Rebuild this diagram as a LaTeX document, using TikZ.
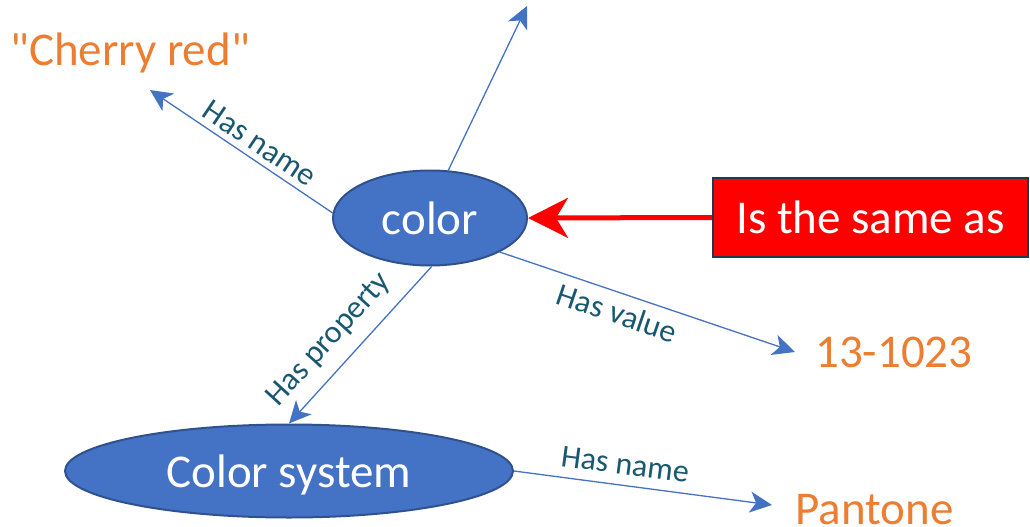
\documentclass[tikz,border=0pt]{standalone}
\usepackage{fontspec}
\setmainfont{Carlito}[Ligatures=TeXOff]
\usetikzlibrary{arrows.meta,shapes.geometric}
\definecolor{nodeblue}{HTML}{4472C4}
\definecolor{nodeedge}{HTML}{2F528F}
\definecolor{valorange}{HTML}{ED7D31}
\definecolor{labelteal}{RGB}{24,88,112}
\definecolor{boxedge}{RGB}{32,56,80}
\definecolor{linkred}{HTML}{FF0000}

\begin{document}
\begin{tikzpicture}[x=1pt,y=-1pt,
  concept/.style={ellipse, fill=nodeblue, draw=nodeedge, line width=2pt,
    inner sep=0pt, text=white, font=\fontsize{47}{56}\selectfont, text depth=0pt},
  valtext/.style={text=valorange, font=\fontsize{47}{56}\selectfont, inner sep=0pt},
  samebox/.style={rectangle, fill=linkred, draw=boxedge, line width=2.5pt,
    minimum width=315pt, minimum height=79pt, inner sep=0pt, text=white,
    font=\fontsize{47}{56}\selectfont},
  rel/.style={draw=nodeblue, line width=1.3pt,
    -{Stealth[length=22pt,width=21pt,inset=6pt]}},
  redlink/.style={draw=linkred, line width=5pt,
    -{Stealth[length=40pt,width=40pt,inset=12pt]}},
  rellabel/.style={text=labelteal, font=\fontsize{32}{38}\selectfont,
    sloped, inner sep=2pt},
]
\useasboundingbox (0,0) rectangle (1030,527);

% concepts
\node[concept, minimum width=194pt, minimum height=95pt] (color) at (430,218) {color};
\node[concept, minimum width=448pt, minimum height=93pt] (sys) at (289,471) {Color system};
\node[samebox] (same) at (870.5,217.5) {Is the same as};

% literal values
\node[valtext, anchor=base west] (cherry) at (10,66) {"Cherry red"};
\node[valtext, anchor=base west] (num) at (815,367) {13-1023};
\node[valtext, anchor=base west] (pantone) at (795,524) {Pantone};

% free arrow ends
\coordinate (nametip) at (150,90);
\coordinate (uptip) at (527,6);
\coordinate (valtip) at (795,352);
\coordinate (pantip) at (772,505);

% relations
\draw[rel] (color.177) -- node[rellabel, above=4pt, pos=.45] {Has name} (nametip);
\draw[rel] (color.69) -- (uptip);
\draw[rel] (color.-26) -- node[rellabel, below=6pt, pos=.42] {Has value} (valtip);
\draw[rel] (color.272) -- node[rellabel, above=11pt, pos=.58] {Has property} (sys.north);
\draw[rel] (sys.east) -- node[rellabel, above=8pt, pos=.42] {Has name} (pantip);
\draw[redlink] (same.west) -- (color.east);
\end{tikzpicture}
\end{document}
